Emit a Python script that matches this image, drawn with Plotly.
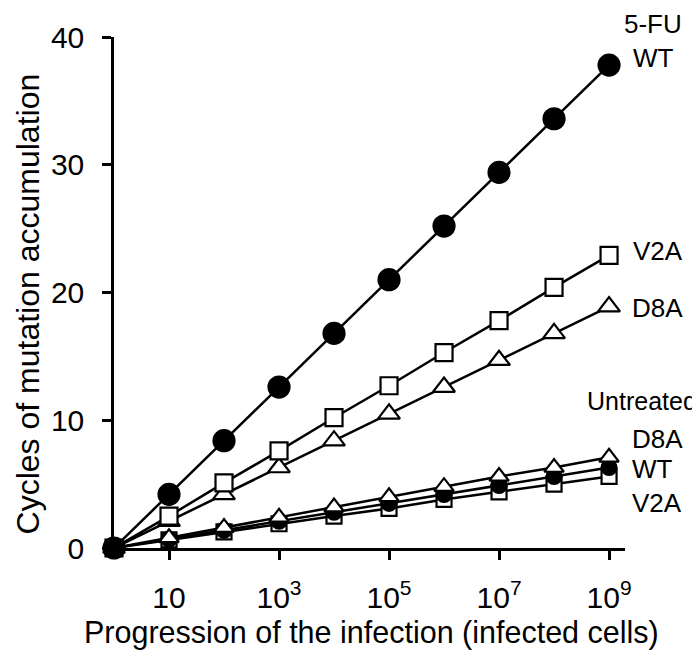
import plotly.graph_objects as go

x_cells = [1, 1e1, 1e2, 1e3, 1e4, 1e5, 1e6, 1e7, 1e8, 1e9]

fu_wt = [0, 4.2, 8.4, 12.6, 16.8, 21.0, 25.2, 29.4, 33.6, 37.8]
fu_v2a = [0, 2.5, 5.1, 7.6, 10.2, 12.7, 15.3, 17.8, 20.4, 22.9]
fu_d8a = [0, 2.1, 4.2, 6.3, 8.4, 10.5, 12.6, 14.7, 16.8, 18.9]
un_d8a = [0, 0.8, 1.6, 2.4, 3.2, 4.0, 4.8, 5.6, 6.3, 7.1]
un_wt = [0, 0.7, 1.4, 2.1, 2.8, 3.5, 4.2, 4.9, 5.6, 6.3]
un_v2a = [0, 0.63, 1.26, 1.9, 2.5, 3.1, 3.8, 4.4, 5.0, 5.6]

tick_vals = [1e1, 1e3, 1e5, 1e7, 1e9]
tick_text = ["10", "10<sup>3</sup>", "10<sup>5</sup>", "10<sup>7</sup>", "10<sup>9</sup>"]

FONT = "Liberation Sans, Arial, sans-serif"

fig = go.Figure()

def add(y, symbol, filled, size):
    fig.add_trace(go.Scatter(
        x=x_cells, y=y, mode="lines+markers", cliponaxis=False,
        line=dict(color="black", width=2.5),
        marker=dict(symbol=symbol, size=size,
                    color="black" if filled else "white",
                    line=dict(color="black", width=2.2)),
        showlegend=False))

add(un_v2a, "square", False, 15)
add(un_wt, "circle", True, 15)
add(un_d8a, "triangle-up", False, 17)
add(fu_d8a, "triangle-up", False, 19)
add(fu_v2a, "square", False, 17)
add(fu_wt, "circle", True, 21)

# series labels (paper coordinates, right of the plot area)
labels = [
    ("5-FU", 1.055, 1.025, "center", 26),
    ("WT", 1.012, 0.959, "left", 26),
    ("V2A", 1.012, 0.581, "left", 26),
    ("D8A", 1.010, 0.470, "left", 26),
    ("Untreated", 0.922, 0.288, "left", 25),
    ("D8A", 1.010, 0.213, "left", 26),
    ("WT", 1.010, 0.155, "left", 26),
    ("V2A", 1.010, 0.088, "left", 26),
]
for text, xp, yp, anchor, fs in labels:
    fig.add_annotation(x=xp, y=yp, xref="paper", yref="paper", text=text, showarrow=False,
                       xanchor=anchor, yanchor="middle",
                       font=dict(size=fs, color="black", family=FONT))

# axis titles
fig.add_annotation(x=-0.168, y=0.477, xref="paper", yref="paper",
                   text="Cycles of mutation accumulation", textangle=-90, showarrow=False,
                   xanchor="center", yanchor="middle",
                   font=dict(size=32, color="black", family=FONT))
fig.add_annotation(x=0.503, y=-0.166, xref="paper", yref="paper",
                   text="Progression of the infection (infected cells)", showarrow=False,
                   xanchor="center", yanchor="middle",
                   font=dict(size=30.5, color="black", family=FONT))

fig.update_layout(
    width=700, height=652,
    margin=dict(l=106, r=83, t=29, b=112, autoexpand=False),
    paper_bgcolor="white", plot_bgcolor="white",
    font=dict(family=FONT, color="black", size=30),
    xaxis=dict(type="log", range=[0, 9.29], tickvals=tick_vals, ticktext=tick_text,
               showgrid=False, zeroline=False, showline=True, linecolor="black", linewidth=2.5,
               ticks="outside", ticklen=9, tickwidth=2.5, tickcolor="black",
               tickfont=dict(size=30), ticklabelstandoff=12, automargin=False),
    yaxis=dict(range=[0, 40], tickvals=[0, 10, 20, 30, 40],
               showgrid=False, zeroline=False, showline=True, linecolor="black", linewidth=2.5,
               ticks="outside", ticklen=9, tickwidth=2.5, tickcolor="black",
               tickfont=dict(size=30), ticklabelstandoff=12, automargin=False),
)

fig.write_html("out.html")
